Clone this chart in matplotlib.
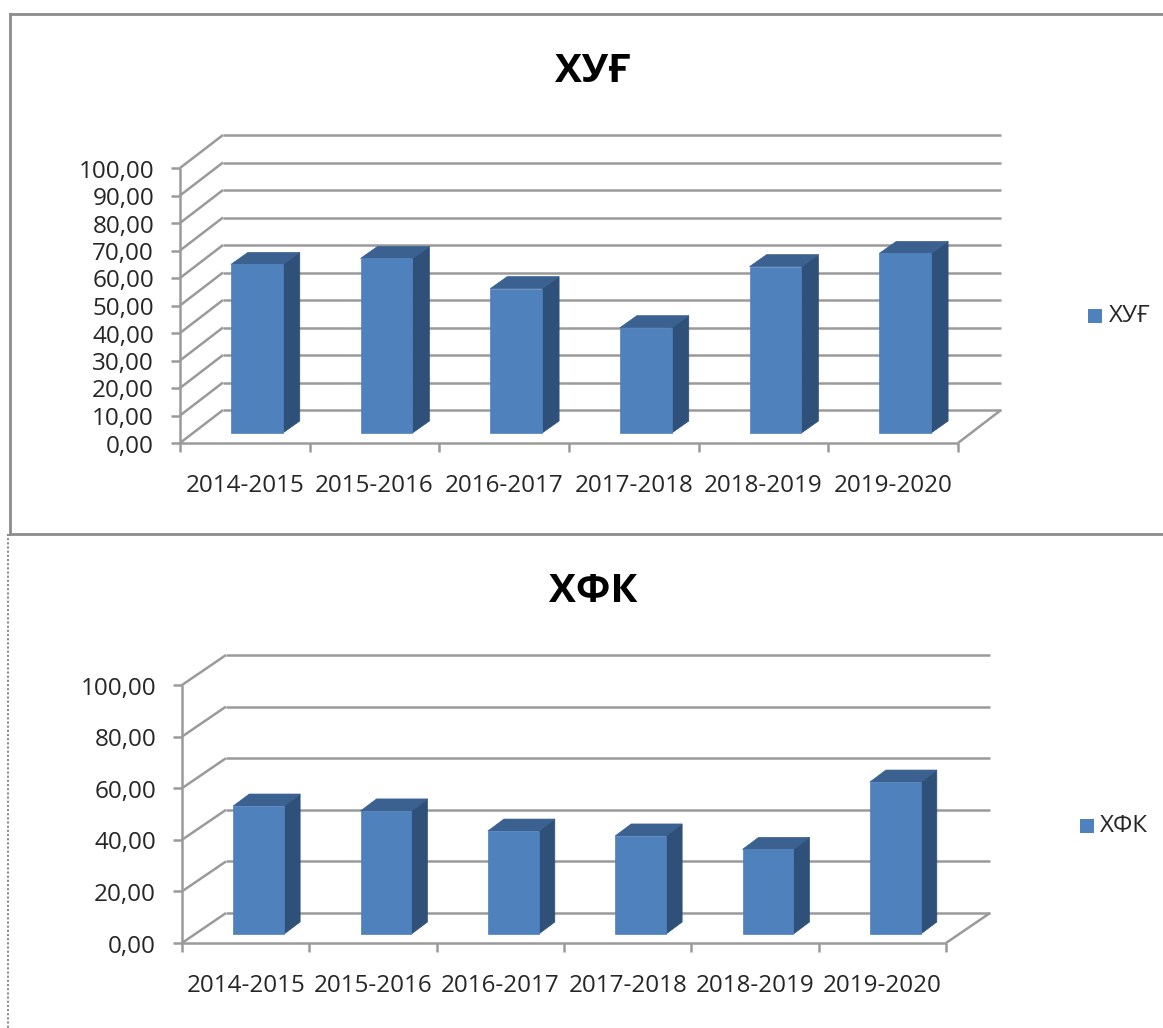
import matplotlib
matplotlib.use("Agg")
import matplotlib.pyplot as plt
from matplotlib.patches import Polygon, Rectangle
from matplotlib.transforms import Affine2D
from matplotlib.lines import Line2D

plt.rcParams['font.family'] = ['Open Sans', 'DejaVu Sans']

categories = ["2014-2015", "2015-2016", "2016-2017", "2017-2018", "2018-2019", "2019-2020"]
title_top = "ХУҒ"
values_top = [61.3, 63.5, 52.5, 38.3, 60.5, 65.3]
ticks_top = [0, 10, 20, 30, 40, 50, 60, 70, 80, 90, 100]
title_bottom = "ХФК"
values_bottom = [49.6, 47.7, 39.9, 38.0, 32.8, 58.9]
ticks_bottom = [0, 20, 40, 60, 80, 100]

W, H = 1163, 1028
FRONT = "#4f81bd"
TOP = "#3a6190"
SIDE = "#2f5078"
GRID = "#9a9a9a"
TXT = "#262626"

fig = plt.figure(figsize=(W / 100, H / 100), dpi=100, facecolor="white")


def fmt(v):
    return f"{v:.2f}".replace(".", ",")


def chart(left, right, y0, y100, wall, bar_base, bar_depth, values, ticks, title, title_xy, legend_xy, leg_text_dx):
    ax = fig.add_axes([left / W, 1 - y0 / H, (right - left) / W, (y0 - y100) / H])
    ax.set_xlim(0, len(values))
    ax.set_ylim(0, 100)
    ax.axis("off")
    t = ax.transData
    back = t + Affine2D().translate(*wall)
    kw = dict(color=GRID, lw=1.8, clip_on=False, solid_capstyle="butt")
    n = len(values)
    # walls and gridlines
    for v in ticks:
        ax.add_line(Line2D([0, n], [v, v], transform=back, **kw))
        p0 = t.transform((0, v))
        p1 = back.transform((0, v))
        ax.add_line(Line2D([p0[0], p1[0]], [p0[1], p1[1]], transform=None, **kw))
        ax.add_line(Line2D([p0[0] - 9, p0[0]], [p0[1], p0[1]], transform=None, **kw))
        ax.text(p0[0] - 26, p0[1] - 3.5, fmt(v), ha="right", va="center", fontsize=17.5,
                color=TXT, transform=None)
    # axes on the front plane
    ax.add_line(Line2D([0, 0], [0, 100], transform=t, **kw))
    ax.add_line(Line2D([0, n], [0, 0], transform=t, **kw))
    p0 = t.transform((n, 0))
    p1 = back.transform((n, 0))
    ax.add_line(Line2D([p0[0], p1[0]], [p0[1], p1[1]], transform=None, **kw))
    for i in range(n + 1):
        p = t.transform((i, 0))
        ax.add_line(Line2D([p[0], p[0]], [p[1], p[1] - 9], transform=None, **kw))
    # bars
    bw = 0.4
    front = t + Affine2D().translate(*bar_base)
    rear = front + Affine2D().translate(*bar_depth)
    for i, v in enumerate(values):
        x0 = i + 0.5 - bw / 2
        x1 = i + 0.5 + bw / 2
        pf = front.transform([(x0, 0), (x1, 0), (x1, v), (x0, v)])
        pr = rear.transform([(x0, 0), (x1, 0), (x1, v), (x0, v)])
        ax.add_patch(Polygon([pf[1], pr[1], pr[2], pf[2]], closed=True, fc=SIDE, ec=SIDE, lw=0.5,
                             transform=None, clip_on=False, zorder=3))
        ax.add_patch(Polygon([pf[3], pf[2], pr[2], pr[3]], closed=True, fc=TOP, ec=TOP, lw=0.5,
                             transform=None, clip_on=False, zorder=3))
        ax.add_patch(Polygon(pf, closed=True, fc=FRONT, ec=FRONT, lw=0.5,
                             transform=None, clip_on=False, zorder=4))
        p = t.transform((i + 0.5, 0))
        ax.text(p[0], p[1] - 43.5, categories[i], ha="center", va="center", fontsize=17.4,
                color=TXT, transform=None)
    # title
    fig.text(title_xy[0] / W, 1 - title_xy[1] / H, title, ha="center", va="center",
             fontsize=29, fontweight="bold", color="black")
    # legend
    lx, ly = legend_xy
    fig.add_artist(Rectangle((lx / W, 1 - (ly + 7) / H), 14 / W, 14 / H, fc=FRONT, ec="none",
                             transform=fig.transFigure))
    fig.text((lx + leg_text_dx) / W, 1 - ly / H, title, ha="left", va="center",
             fontsize=17.5, color=TXT)


chart(180, 958, 443, 168, (43, 33), (12, 10), (17, 12), values_top, ticks_top, title_top,
      (593, 71), (1088, 316), 21)
chart(182, 946, 943, 685, (44, 30), (13, 9), (16, 12), values_bottom, ticks_bottom, title_bottom,
      (593, 591), (1080, 826), 20)

# frame lines
frame = "#8c8c8c"
def hline(y, x0, x1, lw=2.0, ls="-"):
    fig.add_artist(Line2D([x0 / W, x1 / W], [1 - y / H, 1 - y / H], color=frame, lw=lw, ls=ls))
def vline(x, y0, y1, lw=2.0, ls="-"):
    fig.add_artist(Line2D([x / W, x / W], [1 - y0 / H, 1 - y1 / H], color=frame, lw=lw, ls=ls))
hline(14, 10, W)
hline(534, 10, W)
vline(10, 14, 534)
vline(8, 534, H, lw=1.5, ls=(0, (1, 1)))

fig.savefig("out.png", dpi=100, facecolor="white")
